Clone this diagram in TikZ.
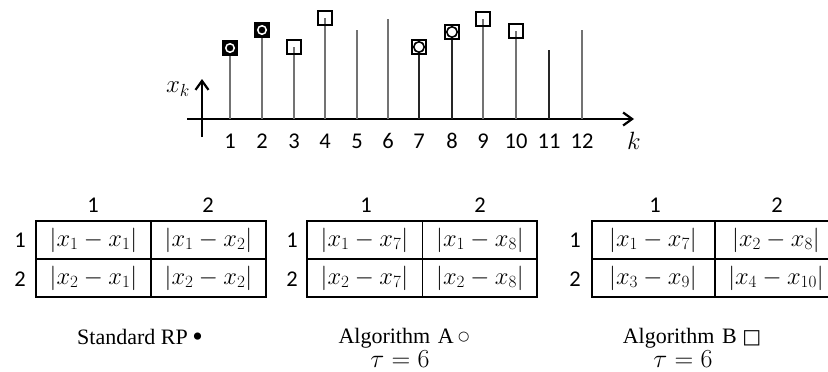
\RequirePackage{fix-cm}
\documentclass[tikz,border=0pt]{standalone}
\usepackage{fontspec}
\setmainfont{Liberation Serif}
\newfontfamily\calib{Carlito}
\newfontfamily\dejavu{DejaVu Sans}
\usetikzlibrary{arrows.meta}
\begin{document}
\begin{tikzpicture}[x=1pt,y=-1pt,
  numlab/.style={font=\calib\fontsize{22.5}{24}\selectfont, inner sep=0pt},
  mathlab/.style={font=\fontsize{25}{28}\selectfont, inner sep=0pt},
  celltxt/.style={font=\fontsize{24.5}{28}\selectfont, inner sep=0pt},
  captxt/.style={font=\fontsize{22}{24}\selectfont, inner sep=0pt, align=center},
  tautxt/.style={font=\fontsize{26}{28}\selectfont, inner sep=0pt},
  axisline/.style={line width=2.4pt, -{Straight Barb[length=9pt,width=13pt,line width=2.2pt]}},
  stemline/.style={line width=1.2pt},
  tbl/.style={line width=1.4pt},
  sqmark/.style={rectangle, draw=black, line width=1.8pt, minimum size=14pt, inner sep=0pt},
  boxfill/.style={rectangle, draw=black, fill=black, line width=1.2pt, minimum size=14pt, inner sep=0pt},
  whitering/.style={circle, draw=white, line width=1.5pt, minimum size=8.5pt, inner sep=0pt},
  circmark/.style={circle, draw=black, fill=white, line width=1.6pt, minimum size=10.5pt, inner sep=0pt}
]
\useasboundingbox (0,0) rectangle (828,372);

% axes
\coordinate (hx0) at (187,119);
\coordinate (hx1) at (634,119);
\coordinate (vy0) at (202,137);
\coordinate (vy1) at (202,79);
\draw[axisline] (hx0) -- (hx1);
\draw[axisline] (vy0) -- (vy1);
\node[mathlab] (xk) at (178,89) {$x_k$};
\node[mathlab] (klab) at (634,141) {$k$};

% stems and index labels
\foreach \i/\x/\y/\c in {1/230/48/55, 2/262/30/55, 3/294/47/55, 4/325/18/55,
  5/357/30/55, 6/388/19/55, 7/419/47/85, 8/452/32/85, 9/483/19/55,
  10/516/31/55, 11/549/50/85, 12/582/30/55}{
  \coordinate (b\i) at (\x,119);
  \coordinate (t\i) at (\x,\y);
  \draw[stemline, black!\c] (b\i) -- (t\i);
  \node[numlab] (n\i) at (\x,141) {\i};
}

% markers
\node[boxfill] (m1) at (t1) {};
\node[whitering] (r1) at (t1) {};
\node[boxfill] (m2) at (t2) {};
\node[whitering] (r2) at (t2) {};
\node[sqmark] (m3) at (t3) {};
\node[sqmark] (m4) at (t4) {};
\node[circmark] (c7) at (t7) {};
\node[sqmark] (m7) at (t7) {};
\node[circmark] (c8) at (t8) {};
\node[sqmark, line width=2.2pt] (m8) at (t8) {};
\node[sqmark] (m9) at (t9) {};
\node[sqmark] (m10) at (t10) {};

% ---------- table 1 : Standard RP ----------
\draw[tbl] (36,221) rectangle (266,297);
\draw[tbl] (36,259) -- (266,259);
\draw[tbl] (151,221) -- (151,297);
\node[numlab] (h1a) at (93,205) {1};
\node[numlab] (h1b) at (208,205) {2};
\node[numlab] (r1a) at (20,240) {1};
\node[numlab] (r1b) at (20,279) {2};
\node[celltxt] (s11) at (93.5,240) {$|x_1 - x_1|$};
\node[celltxt] (s12) at (208.5,240) {$|x_1 - x_2|$};
\node[celltxt] (s21) at (93.5,278) {$|x_2 - x_1|$};
\node[celltxt] (s22) at (208.5,278) {$|x_2 - x_2|$};
\node[captxt] (capS) at (140,338) {Standard RP\hspace{0.2em}\raisebox{-2.5pt}{\fontsize{30}{30}\selectfont •}};

% ---------- table 2 : Algorithm A ----------
\draw[tbl] (307,221) rectangle (537,297);
\draw[tbl] (307,259) -- (537,259);
\draw[tbl] (422.5,221) -- (422.5,297);
\node[numlab] (h2a) at (366,205) {1};
\node[numlab] (h2b) at (480,205) {2};
\node[numlab] (r2a) at (292,240) {1};
\node[numlab] (r2b) at (292,279) {2};
\node[celltxt] (a11) at (364.5,240) {$|x_1 - x_7|$};
\node[celltxt] (a12) at (480,240) {$|x_1 - x_8|$};
\node[celltxt] (a21) at (364.5,278) {$|x_2 - x_7|$};
\node[celltxt] (a22) at (480,278) {$|x_2 - x_8|$};
\node[captxt] (capA) at (404,338) {Algorithm\hspace{0.35em}A\hspace{0.2em}\raisebox{3pt}{\dejavu\fontsize{13}{14}\selectfont ○}};
\node[captxt, tautxt] (tauA) at (400,359) {$\tau = 6$};

% ---------- table 3 : Algorithm B ----------
\draw[tbl] (828,221) -- (592,221) -- (592,297) -- (828,297);
\draw[tbl] (592,259) -- (828,259);
\draw[tbl] (715,221) -- (715,297);
\node[numlab] (h3a) at (655,205) {1};
\node[numlab] (h3b) at (777,205) {2};
\node[numlab] (r3a) at (575,240) {1};
\node[numlab] (r3b) at (575,279) {2};
\node[celltxt] (b11) at (653,240) {$|x_1 - x_7|$};
\node[celltxt] (b12) at (776,240) {$|x_2 - x_8|$};
\node[celltxt] (b21) at (653,278) {$|x_3 - x_9|$};
\node[celltxt] (b22) at (776,278) {$|x_4 - x_{10}|$};
\node[captxt] (capB) at (692,338) {Algorithm\hspace{0.35em}B\hspace{0.25em}{\dejavu\fontsize{20}{22}\selectfont □}};
\node[captxt, tautxt] (tauB) at (683,359) {$\tau = 6$};
\end{tikzpicture}
\end{document}
